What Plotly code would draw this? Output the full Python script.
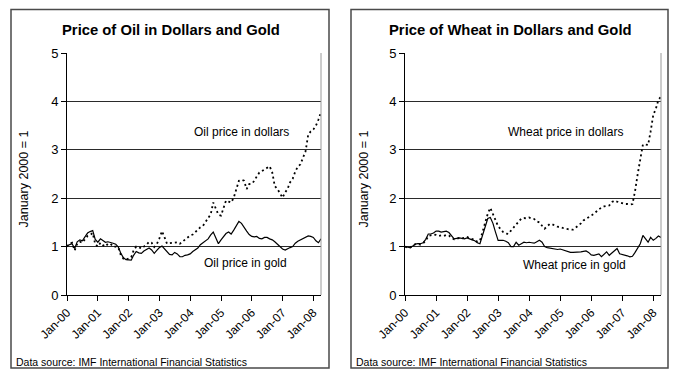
import pandas as pd
import plotly.graph_objects as go

W, H = 680, 383

months = pd.date_range("2000-01-01", periods=100, freq="MS")

oil_gold = [
    1.02, 1.04, 1.06, 0.96, 1.10, 1.14, 1.12, 1.20, 1.28, 1.31,
    1.33, 1.15, 1.09, 1.16, 1.12, 1.09, 1.10, 1.09, 1.07, 1.05,
    0.99, 0.86, 0.77, 0.73, 0.72, 0.72, 0.82, 0.90, 0.87, 0.86,
    0.91, 0.94, 0.97, 0.93, 0.86, 0.92, 0.98, 1.01, 0.96, 0.89,
    0.84, 0.83, 0.88, 0.85, 0.79, 0.79, 0.82, 0.83, 0.85, 0.90,
    0.94, 0.97, 1.04, 1.08, 1.12, 1.16, 1.24, 1.30, 1.18, 1.06,
    1.14, 1.22, 1.27, 1.30, 1.26, 1.34, 1.44, 1.52, 1.48, 1.39,
    1.32, 1.25, 1.21, 1.20, 1.21, 1.17, 1.16, 1.19, 1.19, 1.16,
    1.14, 1.10, 1.05, 1.00, 0.95, 0.93, 0.96, 0.98, 1.00, 1.07,
    1.11, 1.14, 1.16, 1.19, 1.22, 1.21, 1.19, 1.12, 1.08, 1.16,
]

oil_dollars = [
    1.00, 1.06, 1.08, 0.92, 1.06, 1.10, 1.08, 1.14, 1.22, 1.24,
    1.28, 1.05, 1.00, 1.08, 1.03, 1.00, 1.06, 1.06, 1.00, 1.00,
    0.98, 0.82, 0.75, 0.73, 0.76, 0.78, 0.92, 1.00, 0.99, 0.96,
    1.00, 1.04, 1.10, 1.08, 0.99, 1.05, 1.17, 1.32, 1.20, 1.06,
    1.07, 1.08, 1.09, 1.09, 1.06, 1.10, 1.16, 1.20, 1.23, 1.25,
    1.30, 1.35, 1.40, 1.43, 1.50, 1.58, 1.67, 1.91, 1.80, 1.66,
    1.64, 1.81, 1.95, 1.93, 1.91, 2.01, 2.20, 2.36, 2.38, 2.36,
    2.19, 2.29, 2.30, 2.36, 2.45, 2.53, 2.56, 2.60, 2.63, 2.66,
    2.53, 2.25, 2.19, 2.10, 2.01, 2.12, 2.19, 2.33, 2.40, 2.55,
    2.65, 2.70, 2.85, 2.97, 3.31, 3.38, 3.42, 3.50, 3.62, 3.78,
]

wheat_gold = [
    1.00, 0.99, 0.98, 1.01, 1.05, 1.06, 1.06, 1.08, 1.15, 1.26,
    1.26, 1.28, 1.32, 1.32, 1.30, 1.31, 1.32, 1.29, 1.22, 1.16,
    1.17, 1.18, 1.17, 1.16, 1.18, 1.15, 1.14, 1.12, 1.08, 1.06,
    1.22, 1.42, 1.58, 1.60, 1.48, 1.30, 1.13, 1.13, 1.13, 1.11,
    1.08, 1.00, 1.00, 1.09, 1.03, 1.06, 1.09, 1.08, 1.09, 1.08,
    1.07, 1.10, 1.13, 1.09, 1.00, 0.98, 0.97, 0.96, 0.95, 0.94,
    0.95, 0.93, 0.92, 0.90, 0.88, 0.88, 0.88, 0.88, 0.89, 0.90,
    0.91, 0.88, 0.83, 0.82, 0.84, 0.85, 0.79, 0.84, 0.89, 0.82,
    0.87, 0.92, 0.96, 0.85, 0.84, 0.82, 0.81, 0.79, 0.80, 0.88,
    0.96, 1.06, 1.23, 1.16, 1.09, 1.19, 1.13, 1.17, 1.22, 1.19,
]

wheat_dollars = [
    1.00, 0.98, 0.98, 1.02, 1.05, 1.05, 1.04, 1.07, 1.12, 1.22,
    1.24, 1.25, 1.24, 1.22, 1.23, 1.22, 1.24, 1.23, 1.18, 1.15,
    1.16, 1.18, 1.17, 1.18, 1.20, 1.17, 1.15, 1.14, 1.10, 1.12,
    1.30, 1.50, 1.68, 1.80, 1.66, 1.55, 1.42, 1.36, 1.30, 1.27,
    1.26, 1.33, 1.40, 1.45, 1.52, 1.58, 1.59, 1.58, 1.60, 1.58,
    1.57, 1.52, 1.50, 1.43, 1.37, 1.42, 1.47, 1.46, 1.43, 1.41,
    1.40, 1.38, 1.37, 1.36, 1.35, 1.35, 1.39, 1.43, 1.48, 1.54,
    1.57, 1.60, 1.64, 1.68, 1.72, 1.76, 1.81, 1.83, 1.84, 1.85,
    1.92, 1.95, 1.93, 1.91, 1.90, 1.88, 1.88, 1.87, 1.88, 2.15,
    2.49, 2.83, 3.11, 3.11, 3.10, 3.38, 3.72, 3.85, 4.03, 4.10,
]

titles = ["Price of Oil in Dollars and Gold", "Price of Wheat in Dollars and Gold"]
y_title = "January 2000 = 1"
source_text = "Data source: IMF International Financial Statistics"
labels_left = ["Oil price in dollars", "Oil price in gold"]
labels_right = ["Wheat price in dollars", "Wheat price in gold"]
y_ticks = [0, 1, 2, 3, 4, 5]

FONT = "Liberation Sans, Arial, sans-serif"


def px(x):
    return x / W


def py(y):
    return 1 - y / H


fig = go.Figure()

dot_style = dict(color="black", width=1.8, dash="2px,3px")
solid_style = dict(color="black", width=1.2)

fig.add_trace(go.Scatter(x=months, y=oil_dollars, mode="lines", line=dot_style,
                         xaxis="x", yaxis="y", showlegend=False))
fig.add_trace(go.Scatter(x=months, y=oil_gold, mode="lines", line=solid_style,
                         xaxis="x", yaxis="y", showlegend=False))
fig.add_trace(go.Scatter(x=months, y=wheat_dollars, mode="lines", line=dot_style,
                         xaxis="x2", yaxis="y2", showlegend=False))
fig.add_trace(go.Scatter(x=months, y=wheat_gold, mode="lines", line=solid_style,
                         xaxis="x2", yaxis="y2", showlegend=False))

plot_top, plot_bot = 53, 295
left_dom = [px(67), px(321)]
right_dom = [px(405), px(661)]
ydom = [py(plot_bot), py(plot_top)]

xaxis_common = dict(
    type="date",
    range=["2000-01-01", "2008-04-01"],
    tick0="2000-01-01", dtick="M12", tickformat="%b-%y",
    tickangle=-45,
    ticks="outside", ticklen=5, tickcolor="black", tickwidth=1,
    showline=True, linecolor="black", linewidth=1,
    showgrid=False, zeroline=False, automargin=False,
    tickfont=dict(family=FONT, size=12, color="black"),
    fixedrange=True,
)
yaxis_common = dict(
    range=[0, 5], tickvals=y_ticks,
    ticks="outside", ticklen=5, tickcolor="black", tickwidth=1,
    showline=True, linecolor="black", linewidth=1,
    showgrid=True, gridcolor="#2a2a2a", gridwidth=1,
    zeroline=False, automargin=False,
    tickfont=dict(family=FONT, size=13, color="black"),
    fixedrange=True,
)

fig.update_layout(
    template="none",
    width=W, height=H,
    margin=dict(l=0, r=0, t=0, b=0, autoexpand=False),
    paper_bgcolor="white", plot_bgcolor="white",
    xaxis=dict(domain=left_dom, anchor="y", **xaxis_common),
    yaxis=dict(domain=ydom, anchor="x", **yaxis_common),
    xaxis2=dict(domain=right_dom, anchor="y2", **xaxis_common),
    yaxis2=dict(domain=ydom, anchor="x2", **yaxis_common),
)

shapes = []
# panel borders
for (x0, x1) in [(11, 329), (351, 668)]:
    shapes.append(dict(type="rect", xref="paper", yref="paper",
                       x0=px(x0), x1=px(x1), y0=py(368), y1=py(9.5),
                       line=dict(color="#4a4a4a", width=1.5), fillcolor="rgba(0,0,0,0)"))
# right edge of plot areas (light gray)
for xa, ya in [("x", "y"), ("x2", "y2")]:
    shapes.append(dict(type="line", xref=f"{xa} domain", yref=f"{ya} domain",
                       x0=1, x1=1, y0=0, y1=1, line=dict(color="#9a9a9a", width=1)))
fig.update_layout(shapes=shapes)

ann = []
# titles
for t, cx in zip(titles, [171, 510]):
    ann.append(dict(text=f"<b>{t}</b>", x=px(cx), y=py(30), xref="paper", yref="paper",
                    showarrow=False, xanchor="center", yanchor="middle",
                    font=dict(family=FONT, size=14.8, color="black")))
# y titles
for cx in [23.5, 363.5]:
    ann.append(dict(text=y_title, x=px(cx), y=py(179), xref="paper", yref="paper",
                    showarrow=False, textangle=-90, xanchor="center", yanchor="middle",
                    font=dict(family=FONT, size=12.5, color="black")))
# data source
for lx in [14, 354]:
    ann.append(dict(text=source_text, x=px(lx), y=py(361.5), xref="paper", yref="paper",
                    showarrow=False, xanchor="left", yanchor="middle",
                    font=dict(family=FONT, size=10.5, color="black")))
# series labels
series_labels = [
    (labels_left[0], 241.7, 132.3), (labels_left[1], 245, 262.7),
    (labels_right[0], 565.8, 131.7), (labels_right[1], 574.3, 265),
]
for t, cx, cy in series_labels:
    ann.append(dict(text=t, x=px(cx), y=py(cy), xref="paper", yref="paper",
                    showarrow=False, xanchor="center", yanchor="middle",
                    font=dict(family=FONT, size=12, color="black")))
fig.update_layout(annotations=ann)

fig.write_html("out.html", config={"displayModeBar": False, "staticPlot": True},
               post_script="document.body.style.margin='0';")
